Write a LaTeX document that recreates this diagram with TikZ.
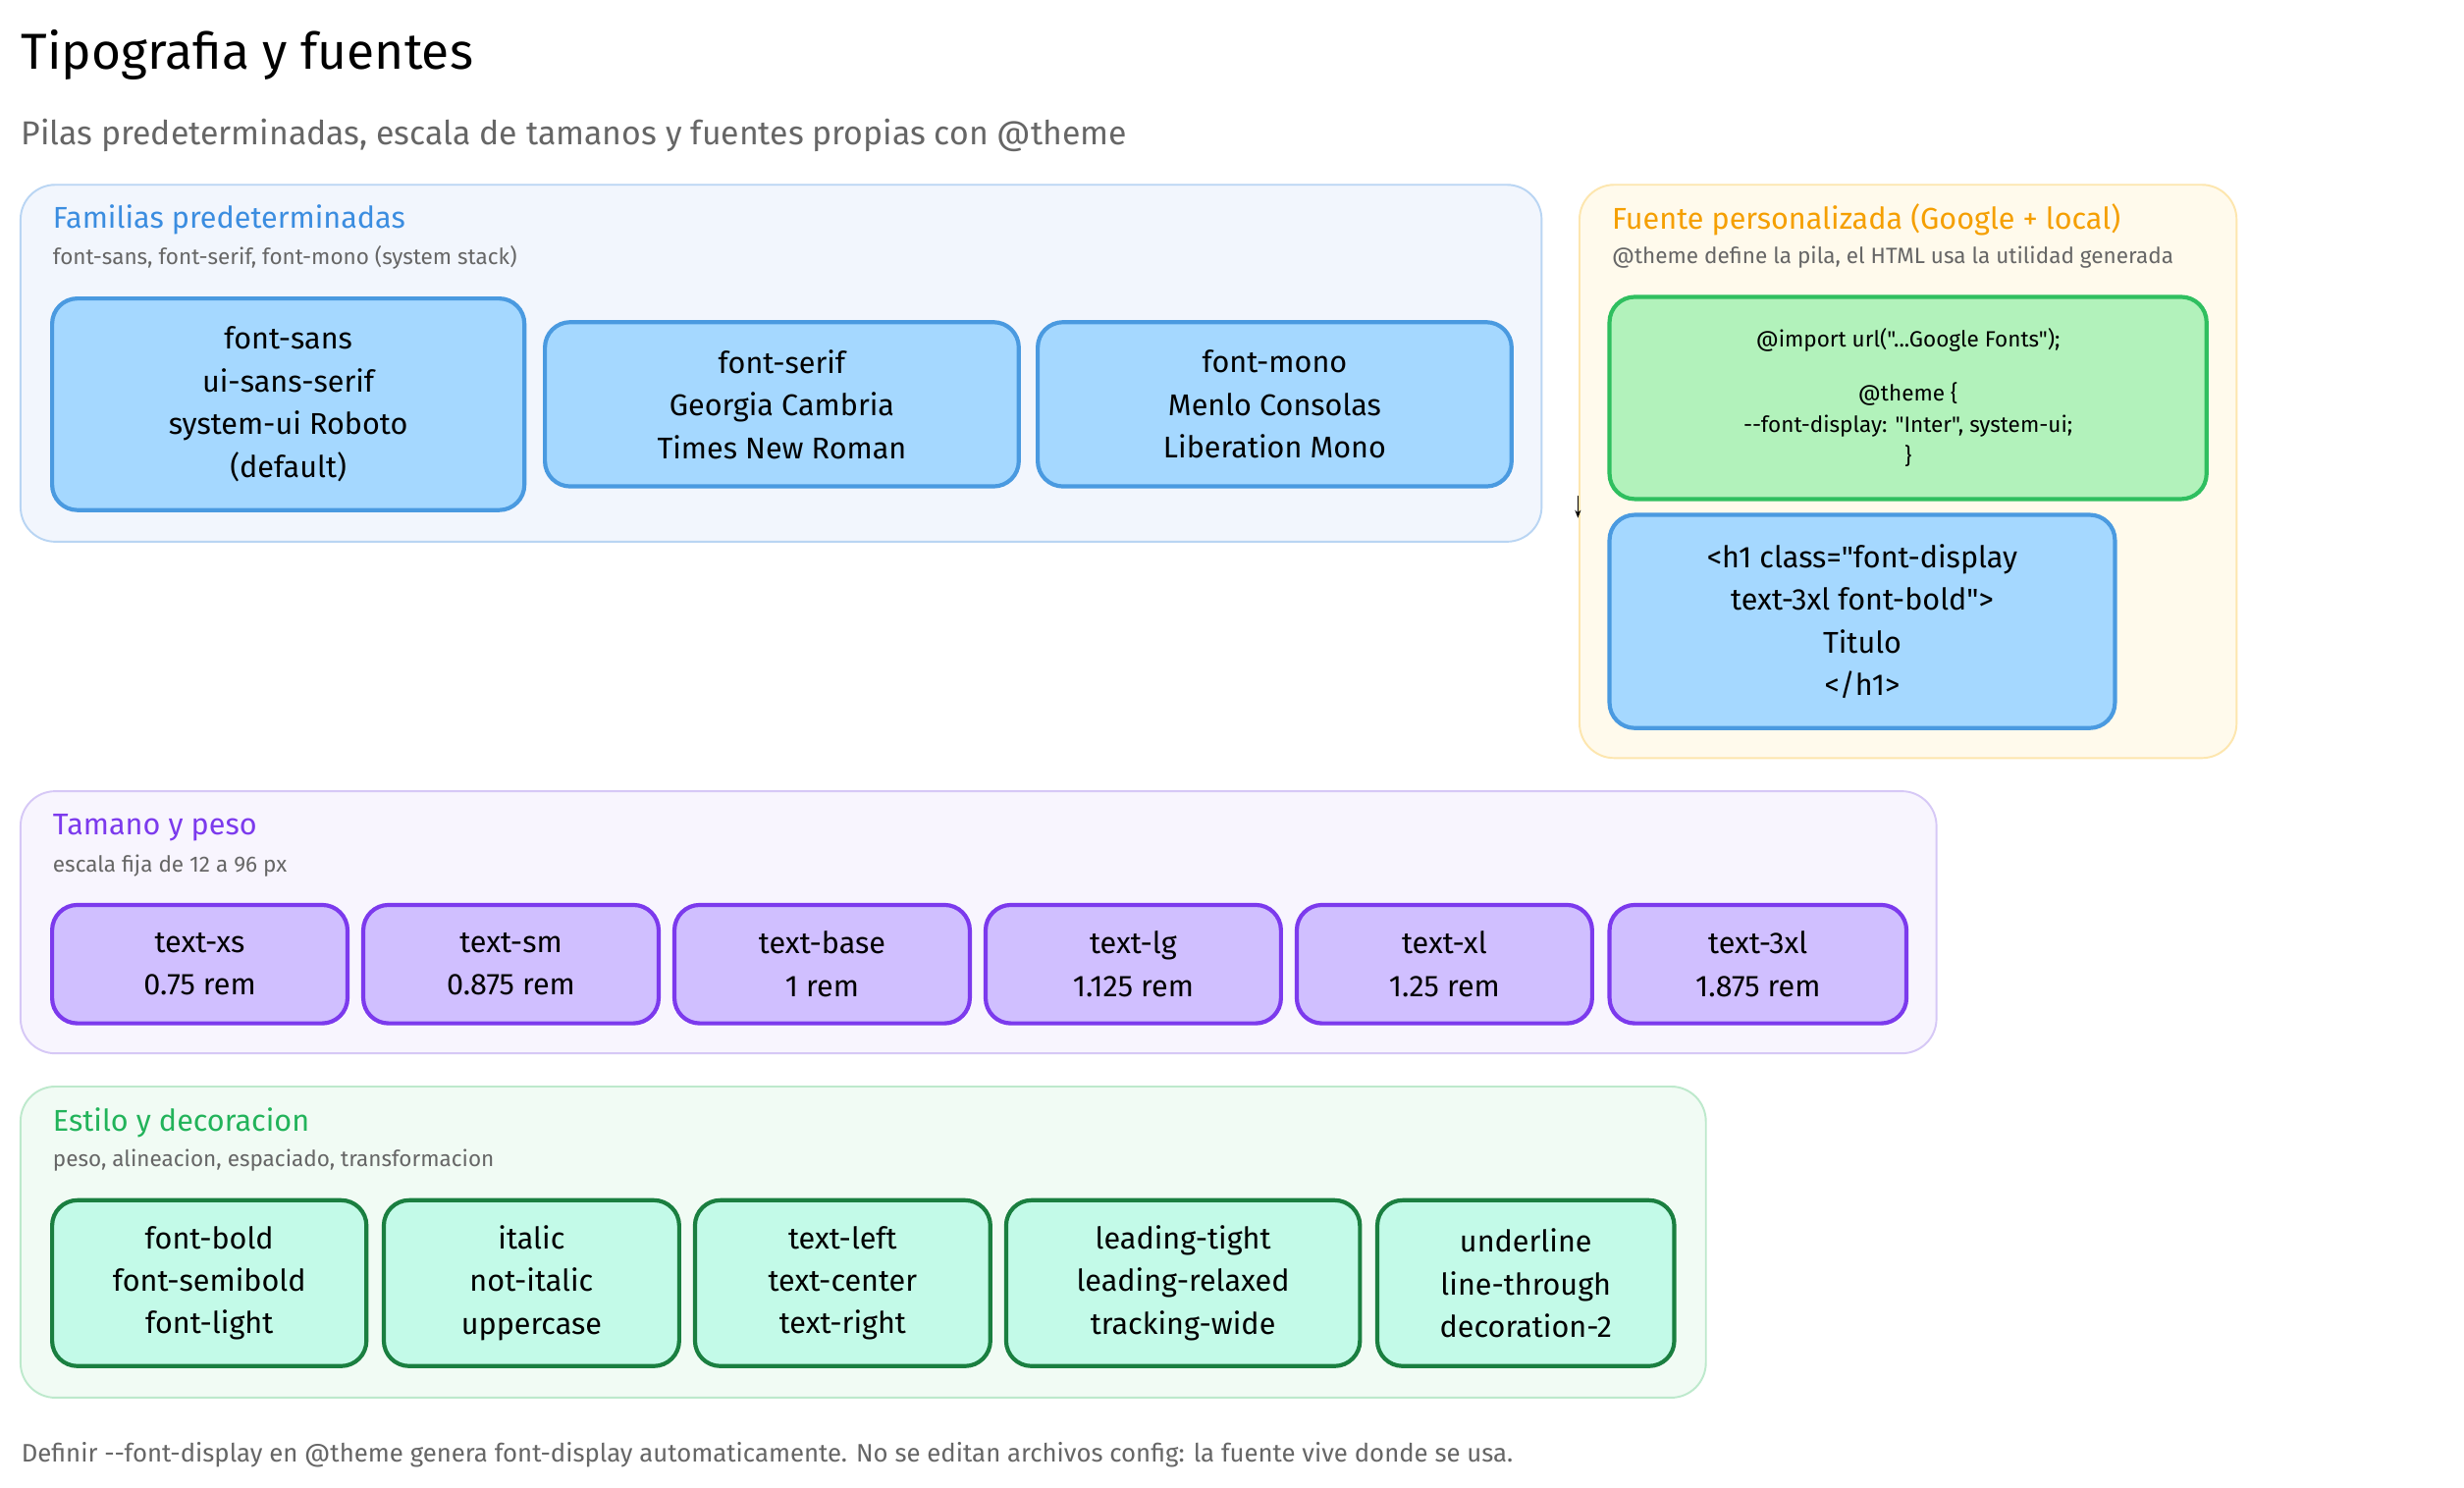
\documentclass[tikz,border=0pt]{standalone}
\usepackage{fontspec}
\setmainfont{Fira Sans}[Ligatures=TeXOff]
\usetikzlibrary{arrows.meta}
\definecolor{gbfill}{HTML}{F2F6FD}\definecolor{gbline}{HTML}{B9D5F3}
\definecolor{gofill}{HTML}{FFFAEC}\definecolor{goline}{HTML}{FDE6AE}
\definecolor{gpfill}{HTML}{F8F5FE}\definecolor{gpline}{HTML}{D6C8F6}
\definecolor{ggfill}{HTML}{F1FBF4}\definecolor{ggline}{HTML}{BDE9CC}
\definecolor{bfill}{HTML}{A5D8FF}\definecolor{bline}{HTML}{4A9AE0}
\definecolor{grfill}{HTML}{B2F2BB}\definecolor{grline}{HTML}{2FBF5F}
\definecolor{pfill}{HTML}{D0BFFF}\definecolor{pline}{HTML}{7C3AED}
\definecolor{tfill}{HTML}{C3FAE8}\definecolor{tline}{HTML}{1A7F40}
\definecolor{tblue}{HTML}{3B8DE0}\definecolor{torange}{HTML}{F59F00}
\definecolor{tgreen}{HTML}{22B35A}\definecolor{tgray}{HTML}{666666}
\tikzset{
 grp/.style={rounded corners=22pt,line width=1.2pt},
 box/.style={rounded corners=16pt,line width=2.6pt,align=center,font=\fontsize{19}{27}\selectfont},
 code/.style={font=\fontsize{14}{20}\selectfont},
 gt/.style={anchor=west,font=\fontsize{19}{22}\selectfont},
 gs/.style={anchor=west,text=tgray,font=\fontsize{14}{16}\selectfont},
}
\newcommand{\bx}[7][]{\node[box,#1,draw=#6,fill=#7,minimum width=#4-#2,minimum height=#5-#3] at ({(#2+#4)/2},{(#3+#5)/2})}
\begin{document}
\begin{tikzpicture}[x=1pt,y=-1pt]
\useasboundingbox[fill=white] (0,0) rectangle (1560,941.6);
\node[anchor=west,font=\fontsize{32}{36}\selectfont] (title) at (10,35) {Tipografia y fuentes};
\node[anchor=west,text=tgray,font=\fontsize{21}{24}\selectfont] (sub) at (10,86) {Pilas predeterminadas, escala de tamanos y fuentes propias con @theme};
% group 1
\draw[grp,draw=gbline,fill=gbfill] (13,117) rectangle (976,343);
\node[gt,text=tblue] (g1t) at (30,139) {Familias predeterminadas};
\node[gs] (g1s) at (30,163) {font-sans, font-serif, font-mono (system stack)};
\bx{33}{189}{332}{323}{bline}{bfill} (b1) {font-sans\\ui-sans-serif\\system-ui Roboto\\(default)};
\bx{345}{204}{645}{308}{bline}{bfill} (b2) {font-serif\\Georgia Cambria\\Times New Roman};
\bx{657}{204}{957}{308}{bline}{bfill} (b3) {font-mono\\Menlo Consolas\\Liberation Mono};
% group 2
\draw[grp,draw=goline,fill=gofill] (1000,117) rectangle (1416,480);
\node[gt,text=torange] (g2t) at (1017,139) {Fuente personalizada (Google + local)};
\node[gs] (g2s) at (1017,163) {@theme define la pila, el HTML usa la utilidad generada};
\bx[code]{1019}{188}{1397}{316}{grline}{grfill} (c1) {@import url("...Google Fonts");\\[14pt]@theme \{\\--font-display: "Inter", system-ui;\\\}};
\bx{1019}{326}{1339}{461}{bline}{bfill} (c2) {<h1 class="font-display\\text-3xl font-bold">\\Titulo\\</h1>};
\coordinate (a1) at (999,314); \coordinate (a2) at (999,328);
\draw[-{Stealth[length=5pt]},line width=1pt] (a1) -- (a2);
% group 3
\draw[grp,draw=gpline,fill=gpfill] (13,501) rectangle (1226,667);
\node[gt,text=pline] (g3t) at (30,524) {Tamano y peso};
\node[gs] (g3s) at (30,548) {escala fija de 12 a 96 px};
\bx{33}{573}{220}{648}{pline}{pfill} (p1) {text-xs\\0.75 rem};
\bx{230}{573}{417}{648}{pline}{pfill} (p2) {text-sm\\0.875 rem};
\bx{427}{573}{614}{648}{pline}{pfill} (p3) {text-base\\1 rem};
\bx{624}{573}{811}{648}{pline}{pfill} (p4) {text-lg\\1.125 rem};
\bx{821}{573}{1008}{648}{pline}{pfill} (p5) {text-xl\\1.25 rem};
\bx{1019}{573}{1207}{648}{pline}{pfill} (p6) {text-3xl\\1.875 rem};
% group 4
\draw[grp,draw=ggline,fill=ggfill] (13,688) rectangle (1080,885);
\node[gt,text=tgreen] (g4t) at (30,711) {Estilo y decoracion};
\node[gs] (g4s) at (30,735) {peso, alineacion, espaciado, transformacion};
\bx{33}{760}{232}{865}{tline}{tfill} (s1) {font-bold\\font-semibold\\font-light};
\bx{243}{760}{430}{865}{tline}{tfill} (s2) {italic\\not-italic\\uppercase};
\bx{440}{760}{627}{865}{tline}{tfill} (s3) {text-left\\text-center\\text-right};
\bx{637}{760}{861}{865}{tline}{tfill} (s4) {leading-tight\\leading-relaxed\\tracking-wide};
\bx{872}{760}{1060}{865}{tline}{tfill} (s5) {underline\\line-through\\decoration-2};
\node[anchor=west,text=tgray,font=\fontsize{16}{18}\selectfont] (foot) at (10,921) {Definir --font-display en @theme genera font-display automaticamente. No se editan archivos config: la fuente vive donde se usa.};
\end{tikzpicture}
\end{document}
